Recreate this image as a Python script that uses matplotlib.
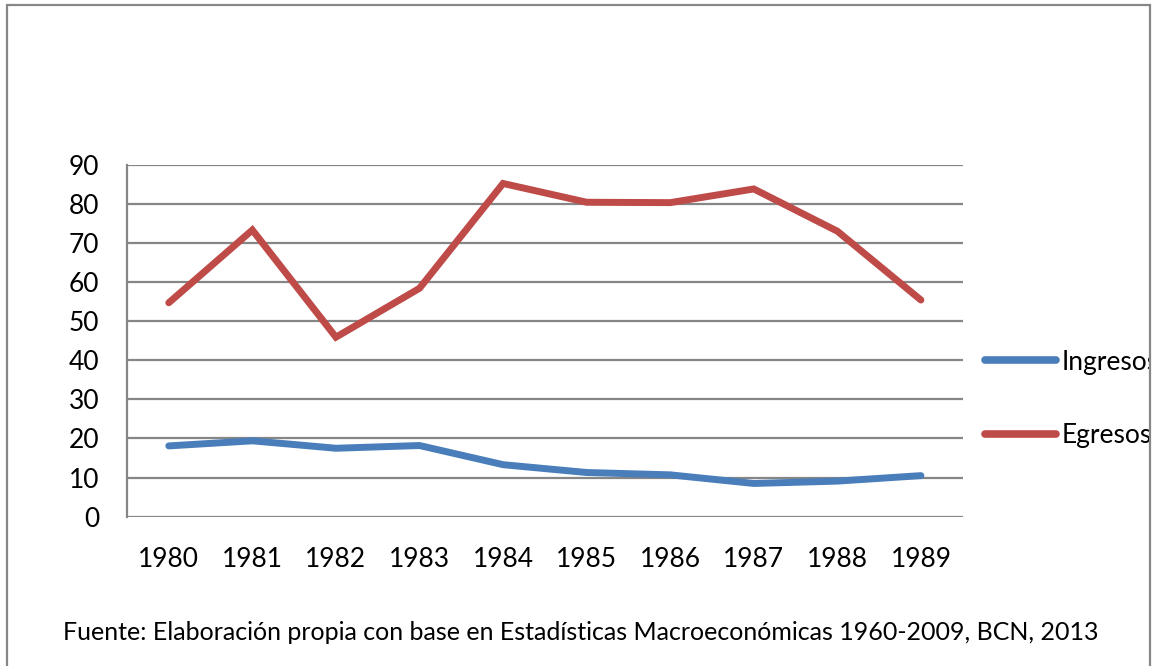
import matplotlib.pyplot as plt
import matplotlib.patches as patches

years = ["1980", "1981", "1982", "1983", "1984", "1985", "1986", "1987", "1988", "1989"]
ingresos = [18.1, 19.4, 17.5, 18.2, 13.3, 11.3, 10.7, 8.5, 9.1, 10.5]
egresos = [54.7, 73.3, 45.9, 58.4, 85.2, 80.4, 80.3, 83.8, 73.0, 55.4]
yticks = [0, 10, 20, 30, 40, 50, 60, 70, 80, 90]
fuente = "Fuente: Elaboración propia con base en Estadísticas Macroeconómicas 1960-2009, BCN, 2013"

plt.rcParams['font.family'] = ['Lato', 'DejaVu Sans']

W, H = 1157, 666
fig = plt.figure(figsize=(W / 100, H / 100), dpi=100)
ax = fig.add_axes([127 / W, 1 - 516.7 / H, (962.7 - 127) / W, (516.7 - 164.7) / H])

x = list(range(len(years)))
ax.plot(x, ingresos, color="#4A7EBB", lw=5, solid_capstyle="round", solid_joinstyle="miter", label="Ingresos", zorder=3)
ax.plot(x, egresos, color="#BE4B48", lw=5, solid_capstyle="round", solid_joinstyle="miter", label="Egresos", zorder=3)

ax.set_xlim(-0.5, len(years) - 0.5)
ax.set_ylim(0, 90)
ax.set_yticks(yticks)
ax.set_xticks(x)
ax.set_xticklabels(years)
ax.grid(axis="y", color="#868686", lw=1.6)
ax.set_axisbelow(True)
for s in ["top", "right", "bottom"]:
    ax.spines[s].set_visible(False)
ax.spines["left"].set_color("#868686")
ax.spines["left"].set_linewidth(1.6)
ax.tick_params(axis="both", length=0, labelsize=19)
ax.tick_params(axis="y", pad=20)
ax.tick_params(axis="x", pad=22)

leg = ax.legend(loc="center left", bbox_to_anchor=(972 / W, 1 - 399 / H), bbox_transform=fig.transFigure,
                frameon=False, fontsize=19, handlelength=2.7, handletextpad=0.2, labelspacing=1.85, borderpad=0)
for line in leg.get_lines():
    line.set_linewidth(5.5)
for t in leg.get_texts():
    t.set_clip_path(patches.Rectangle((0, 0), 1150 / W, 1, transform=fig.transFigure))
    t.set_clip_on(True)

fig.text(63 / W, 1 - 632 / H, fuente, fontsize=18, va="center", ha="left")

fig.add_artist(patches.Rectangle((7 / W, -0.05), (1150 - 7) / W, 1 - 5 / H + 0.05,
                                 transform=fig.transFigure, fill=False, edgecolor="#878787", lw=1.6))

fig.savefig("out.png", dpi=100)
